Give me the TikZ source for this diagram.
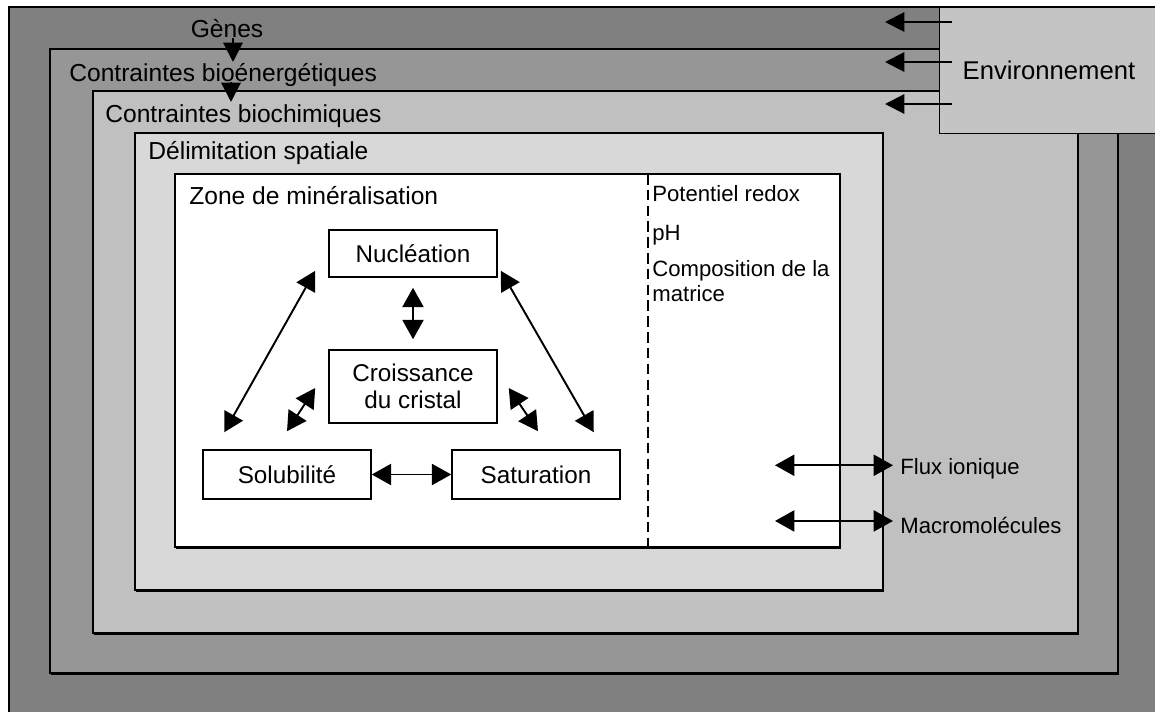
\documentclass[tikz,border=0pt]{standalone}
\usepackage{fontspec}
\setmainfont{Liberation Sans}
\usetikzlibrary{arrows.meta,shadows,calc}

\definecolor{geneGray}{RGB}{128,128,128}
\definecolor{energyGray}{RGB}{150,150,150}
\definecolor{chemGray}{RGB}{192,192,192}
\definecolor{spaceGray}{RGB}{216,216,216}
\definecolor{envGray}{RGB}{196,196,196}

\begin{document}
\begin{tikzpicture}[x=0.02cm, y=-0.02cm,
  layer/.style={draw=black, line width=1.1pt,
    drop shadow={shadow xshift=0.6pt, shadow yshift=-0.9pt, opacity=1, fill=black}},
  layerlabel/.style={anchor=base west, inner sep=0pt, font=\fontsize{14}{16}\selectfont},
  sidetext/.style={anchor=base west, inner sep=0pt, font=\fontsize{12.6}{15}\selectfont},
  procbox/.style={draw, line width=0.9pt, fill=white, minimum width=3.36cm,
    align=center, font=\fontsize{13.8}{15.5}\selectfont},
  envbox/.style={draw, line width=0.8pt, fill=envGray, anchor=north west,
    minimum height=2.52cm, text width=3.9cm, inner xsep=0.46cm, align=left,
    font=\fontsize{14.6}{17}\selectfont},
  onearrow/.style={-{Triangle[length=11pt,width=11pt]}, line width=1.2pt},
  twoarrow/.style={{Triangle[length=11pt,width=12pt]}-{Triangle[length=11pt,width=12pt]}, line width=1.1pt}]

  % --- Page and clipping ---
  \useasboundingbox (0,0) rectangle (1155,712);
  \clip (0,0) rectangle (1155,712);
  \fill[white] (0,0) rectangle (1155,712);

  % --- Nested layers ---
  \filldraw[layer, fill=geneGray] (9,7) rectangle (1180,730);
  \filldraw[layer, fill=energyGray] (50,49) rectangle (1118,673);
  \filldraw[layer, fill=chemGray] (93,91) rectangle (1078,633);
  \filldraw[layer, fill=spaceGray] (135,133) rectangle (883,590);
  \filldraw[layer, fill=white] (175,174) rectangle (840,547);

  % --- Layer labels ---
  \node[layerlabel, anchor=base] (gen) at (227,38) {Gènes};
  \node[layerlabel] (bioen) at (69,82) {Contraintes bioénergétiques};
  \node[layerlabel] (biochim) at (105,123) {Contraintes biochimiques};
  \node[layerlabel] (espace) at (148,160) {Délimitation spatiale};
  \node[layerlabel] (zone) at (189,205) {Zone de minéralisation};

  \draw[onearrow] (gen.base -| 233,0) -- (233,62);
  \draw[onearrow] (bioen.base -| 231,0) -- (231,102);

  % --- Environment ---
  \node[envbox] (env) at (939,7) {Environnement};
  \foreach \y in {22,62,104}
    \draw[onearrow] ($(env.west |- 0,\y)+(13,0)$) -- ++(-67,0);

  % --- Mineralisation steps ---
  \node[procbox, minimum height=0.94cm] (nuc) at (413,253.5) {Nucléation};
  \node[procbox, minimum height=1.46cm] (cro) at (413,386.5) {Croissance\\du cristal};
  \node[procbox, minimum height=0.98cm] (sol) at (287,474.5) {Solubilité};
  \node[procbox, minimum height=0.98cm] (sat) at (536,474.5) {Saturation};

  \draw[twoarrow, shorten <=0.2cm, shorten >=0.2cm] (nuc) -- (cro);
  \draw[twoarrow] ($(sol.north west)+(22,-17)$) -- ($(nuc.south west)+(-13,-7)$);
  \draw[twoarrow] ($(sat.north east)+(-27,-17)$) -- ($(nuc.south east)+(3,-7)$);
  \draw[twoarrow] ($(sol.north)+(0,-18)$) -- ($(cro.west)+(-13,1.5)$);
  \draw[twoarrow] ($(cro.east)+(11,1.5)$) -- ($(sat.north)+(2,-18)$);
  \draw[twoarrow] (sol) -- (sat);

  % --- Local conditions ---
  \draw[line width=0.8pt, dash pattern=on 6pt off 3pt] (648,174) -- (648,547);
  \node[sidetext] (redox) at (652,202) {Potentiel redox};
  \node[sidetext] (ph) at (652,241) {pH};
  \node[sidetext] (compo) at (652,277) {Composition de la};
  \node[sidetext] (matr) at (652,302) {matrice};

  % --- Exchanges ---
  \node[sidetext] (flux) at (900,474) {Flux ionique};
  \node[sidetext] (macro) at (900,533) {Macromolécules};
  \draw[twoarrow] ($(flux.west)+(-125,-3)$) -- ($(flux.west)+(-7,-3)$);
  \draw[twoarrow] ($(macro.west)+(-125,-4)$) -- ($(macro.west)+(-7,-4)$);

\end{tikzpicture}
\end{document}
